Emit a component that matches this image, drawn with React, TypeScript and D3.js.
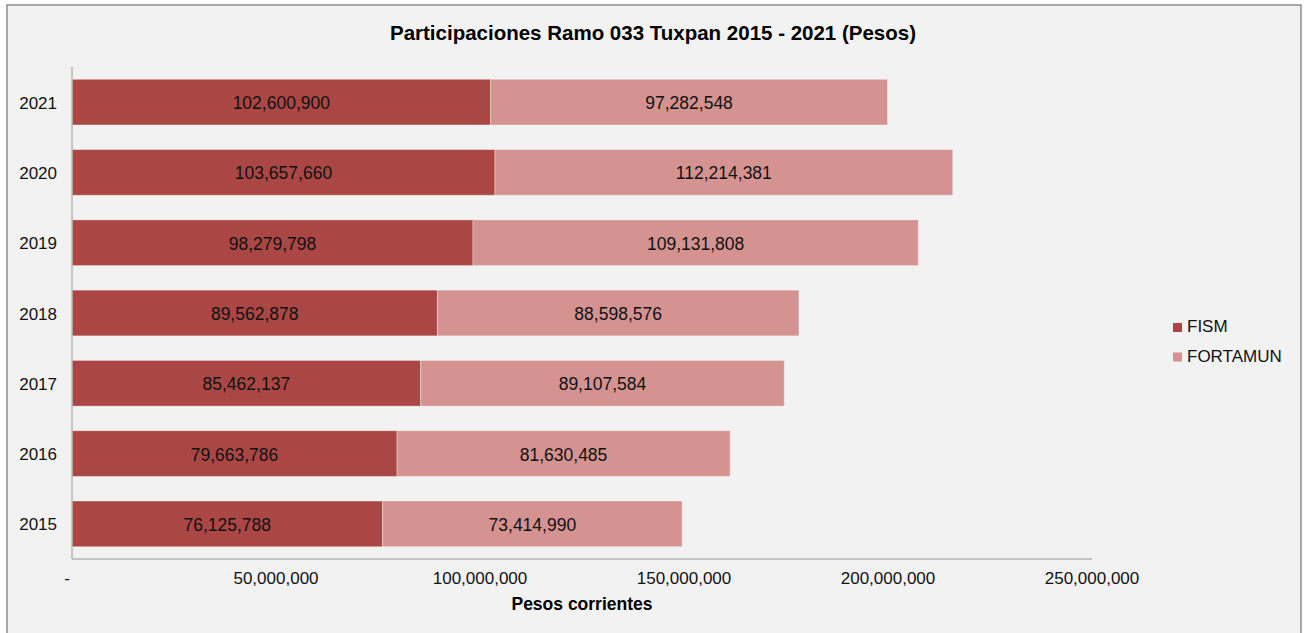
import React from "react";
import * as d3 from "d3";

const years = ["2015", "2016", "2017", "2018", "2019", "2020", "2021"];
const fism = [76125788, 79663786, 85462137, 89562878, 98279798, 103657660, 102600900];
const fortamun = [73414990, 81630485, 89107584, 88598576, 109131808, 112214381, 97282548];
const seriesNames = ["FISM", "FORTAMUN"];
const seriesColors = ["#AA4744", "#D49391"];
const xTicks = [0, 50000000, 100000000, 150000000, 200000000, 250000000];

const W = 1308, H = 633;
const FONT = "'Liberation Sans', Arial, sans-serif";

export default function App() {
  const x = d3.scaleLinear().domain([0, 250000000]).range([72, 1092]);
  const y = d3.scaleBand().domain([...years].reverse()).range([67, 559]).paddingInner(0.35).paddingOuter(0.175);
  const fmt = d3.format(",");
  const stack = d3.stack<any>().keys(["fism", "fortamun"])(
    years.map((yr, i) => ({ year: yr, fism: fism[i], fortamun: fortamun[i] }))
  );
  return (
    <svg width={W} height={H} style={{ position: "absolute", left: 0, top: 0 }} fontFamily={FONT}>
      <rect x={0} y={0} width={W} height={H} fill="#ffffff" />
      <rect x={7} y={5} width={1294} height={640} fill="#f2f2f2" stroke="#8c8c8c" strokeWidth={1.5} />
      <text x={653} y={40} textAnchor="middle" fontSize={20.5} fontWeight="bold" fill="#000">
        Participaciones Ramo 033 Tuxpan 2015 - 2021 (Pesos)
      </text>
      {stack.map((layer, si) =>
        layer.map((d, i) => {
          const yr = years[i];
          const x0 = x(d[0]), x1 = x(d[1]);
          const by = y(yr)!;
          const v = d[1] - d[0];
          return (
            <g key={si + "-" + i}>
              <rect x={x0} y={by} width={x1 - x0} height={y.bandwidth()} fill={seriesColors[si]}
                stroke="#ffffff" strokeOpacity={0.35} strokeWidth={1} />
              <text x={(x0 + x1) / 2} y={by + y.bandwidth() / 2 + 7} textAnchor="middle" fontSize={17.5} fill="#111">
                {fmt(v)}
              </text>
            </g>
          );
        })
      )}
      <line x1={72} x2={72} y1={67} y2={559} stroke="#b3b3b3" strokeWidth={1.5} />
      <line x1={72} x2={1092} y1={559} y2={559} stroke="#b3b3b3" strokeWidth={1.5} />
      {years.map((yr) => (
        <text key={yr} x={57} y={y(yr)! + y.bandwidth() / 2 + 6.5} textAnchor="end" fontSize={17} fill="#111">
          {yr}
        </text>
      ))}
      {xTicks.map((t) => (
        <text key={t} x={t === 0 ? 67 : x(t)} y={584} textAnchor="middle" fontSize={17} fill="#111">
          {t === 0 ? "-" : fmt(t)}
        </text>
      ))}
      <text x={582} y={610} textAnchor="middle" fontSize={17.5} fontWeight="bold" fill="#000">
        Pesos corrientes
      </text>
      {seriesNames.map((n, i) => (
        <g key={n} transform={`translate(1173, ${332 + i * 29.5})`}>
          <rect x={0} y={-9} width={9} height={9} fill={seriesColors[i]} />
          <text x={14} y={0} fontSize={17} fill="#111">{n}</text>
        </g>
      ))}
    </svg>
  );
}
